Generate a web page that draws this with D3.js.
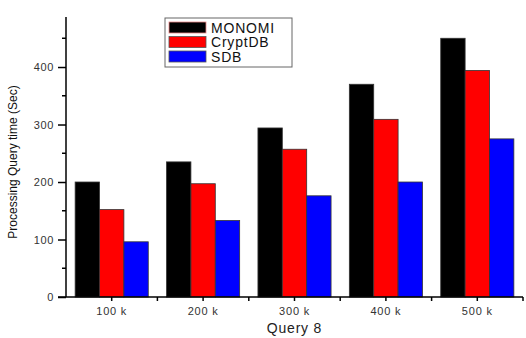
<!DOCTYPE html>
<html>
<head>
<meta charset="utf-8">
<script src="https://cdn.jsdelivr.net/npm/d3@7"></script>
<style>
  body { margin: 0; background: #fff; }
  text { font-family: Arial, "Liberation Sans", sans-serif; }
</style>
</head>
<body>
<div id="chart"></div>
<script>
// chart data
var categories = ['100 k', '200 k', '300 k', '400 k', '500 k'];
var seriesNames = ['MONOMI', 'CryptDB', 'SDB'];
var monomi = [200, 235, 294, 370, 450];
var cryptdb = [152, 197, 257, 309, 394];
var sdb = [96, 133, 176, 200, 275];
var yTicks = [0, 100, 200, 300, 400];
var colors = ['#000000', '#ff0000', '#0000ff'];

var width = 526;
var height = 338;
var margin = {top: 17, right: 3, bottom: 41, left: 66};

var svg = d3.select('#chart')
  .append('svg')
  .attr('width', width)
  .attr('height', height);

var g = svg.append('g')
  .attr('transform', 'translate(' + margin.left + ',' + margin.top + ')');

var w = width - margin.left - margin.right;
var h = height - margin.top - margin.bottom;

var x = d3.scaleBand()
  .domain(categories)
  .range([0, w])
  .paddingInner(0.2)
  .paddingOuter(0.1);

// full-width band for tick placement
var xCat = d3.scaleBand().domain(categories).range([0, w]);

var x1 = d3.scaleBand()
  .domain(seriesNames)
  .range([0, x.bandwidth()]);

var y = d3.scaleLinear()
  .domain([0, 487])
  .range([h, 0]);

var data = categories.map(function(c, i) {
  return {cat: c, values: [monomi[i], cryptdb[i], sdb[i]]};
});

// bars
var groups = g.selectAll('.grp')
  .data(data)
  .enter().append('g')
  .attr('class', 'grp')
  .attr('transform', function(d) { return 'translate(' + x(d.cat) + ',0)'; });

groups.selectAll('rect')
  .data(function(d) {
    return d.values.map(function(v, i) { return {name: seriesNames[i], v: v, i: i}; });
  })
  .enter().append('rect')
  .attr('x', function(d) { return x1(d.name); })
  .attr('y', function(d) { return y(d.v); })
  .attr('width', x1.bandwidth())
  .attr('height', function(d) { return h - y(d.v); })
  .style('fill', function(d) { return colors[d.i]; })
  .style('stroke', '#333')
  .style('stroke-width', 0.8);

// y axis
var yAxis = d3.axisLeft(y)
  .tickValues(yTicks)
  .tickSize(8)
  .tickPadding(4);

var yg = g.append('g').call(yAxis);
yg.select('.domain').attr('d', 'M0,' + h + 'V0').style('stroke-width', 1.5);
yg.selectAll('.tick line').style('stroke-width', 1.5);
yg.selectAll('.tick text')
  .style('font-size', '11px')
  .style('letter-spacing', '0.6px')
  .style('fill', '#333');

// minor y ticks
g.selectAll('.yminor')
  .data([50, 150, 250, 350, 450])
  .enter().append('line')
  .attr('x1', -4)
  .attr('x2', 0)
  .attr('y1', function(d) { return y(d); })
  .attr('y2', function(d) { return y(d); })
  .style('stroke', '#000')
  .style('stroke-width', 1.5);

// x axis
var xAxis = d3.axisBottom(xCat)
  .tickSize(4)
  .tickPadding(6);

var xg = g.append('g')
  .attr('transform', 'translate(0,' + h + ')')
  .call(xAxis);
xg.select('.domain').attr('d', 'M-8,0H' + w).style('stroke-width', 1.5);
xg.selectAll('.tick line').style('stroke-width', 1.5);
xg.selectAll('.tick text')
  .style('font-size', '11px')
  .style('letter-spacing', '0.8px')
  .style('fill', '#333');

// minor x ticks between groups
g.selectAll('.xminor')
  .data(categories)
  .enter().append('line')
  .attr('x1', function(d) { return xCat(d) + xCat.bandwidth(); })
  .attr('x2', function(d) { return xCat(d) + xCat.bandwidth(); })
  .attr('y1', h)
  .attr('y2', h + 4)
  .style('stroke', '#000')
  .style('stroke-width', 1.5);

// axis titles
svg.append('text')
  .attr('transform', 'translate(17,162) rotate(-90)')
  .attr('text-anchor', 'middle')
  .style('font-family', '"Liberation Sans Narrow", "Arial Narrow", Arial, sans-serif')
  .style('font-size', '12px')
  .style('fill', '#111')
  .text('Processing Query time (Sec)');

svg.append('text')
  .attr('x', margin.left + w / 2)
  .attr('y', 333)
  .attr('text-anchor', 'middle')
  .style('font-size', '14px')
  .style('letter-spacing', '0.8px')
  .style('fill', '#222')
  .text('Query 8');

// legend
var legend = svg.append('g')
  .attr('transform', 'translate(165,18)');

legend.append('rect')
  .attr('width', 127)
  .attr('height', 49)
  .style('fill', '#fff')
  .style('stroke', '#666')
  .style('stroke-width', 1);

var items = legend.selectAll('.legend')
  .data(seriesNames)
  .enter().append('g')
  .attr('class', 'legend')
  .attr('transform', function(d, i) { return 'translate(0,' + (4 + i * 14.5) + ')'; });

items.append('rect')
  .attr('x', 4)
  .attr('width', 37)
  .attr('height', 11)
  .style('fill', function(d, i) { return colors[i]; })
  .style('stroke', function(d, i) { return i === 0 ? '#e88' : '#555'; })
  .style('stroke-width', 0.8);

items.append('text')
  .attr('x', 46)
  .attr('y', 6)
  .attr('dy', '.35em')
  .style('font-size', '14px')
  .style('letter-spacing', '0.8px')
  .style('fill', '#111')
  .text(function(d) { return d; });
</script>
</body>
</html>
